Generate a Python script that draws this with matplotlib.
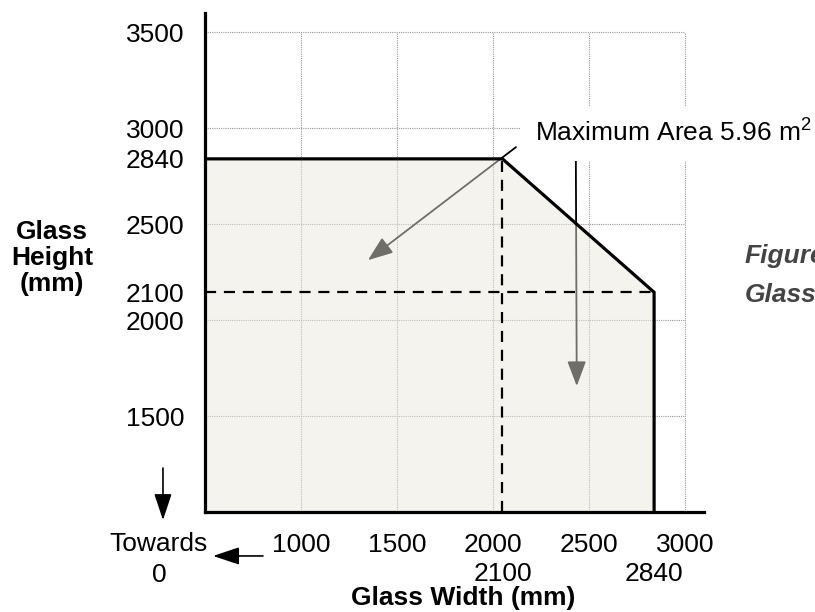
import matplotlib.pyplot as plt

plt.rcParams["font.family"] = ["Liberation Sans", "DejaVu Sans"]
plt.rcParams["mathtext.default"] = "regular"

# outline of the allowed glass size (drawn corner sits a little left/up of 2100)
outline_w = [500, 500, 2050, 2840, 2840]
outline_h = [1000, 2840, 2840, 2145, 1000]

x_ticks = [1000, 1500, 2000, 2500, 3000]
y_ticks = [1500, 2000, 2145, 2500, 2840, 3000, 3500]
y_labels = ["1500", "2000", "2100", "2500", "2840", "3000", "3500"]
x_extra = [2050, 2840]
x_extra_labels = ["2100", "2840"]

grid_x = [1000, 1500, 2000, 2500, 3000]
grid_y = [1500, 2000, 2500, 3000, 3500]

FILL = (233 / 255, 231 / 255, 221 / 255)
FS = 19

fig = plt.figure(figsize=(8.15, 6.12), dpi=100)
ax = fig.add_axes([205 / 815, 1 - 512 / 612, 499 / 815, 499 / 612])
ax.set_xlim(500, 3100)
ax.set_ylim(1000, 3600)

# grid
ax.hlines(grid_y, 500, 3000, colors="#999999", linewidth=0.8,
          linestyle=(0, (1, 1)), zorder=1)
ax.vlines(grid_x, 1000, 3500, colors="#999999", linewidth=0.8,
          linestyle=(0, (1, 1)), zorder=1)

# pointer arrows (drawn under the translucent fill)
arrow = dict(arrowstyle="-|>,head_length=0.85,head_width=0.32", color="black",
             lw=1.3, shrinkA=0, shrinkB=0, mutation_scale=18)
ax.annotate("", xy=(1349, 2312), xytext=(2120, 2901), arrowprops=arrow, zorder=2)
ax.annotate("", xy=(2437, 1656), xytext=(2432, 2901), arrowprops=arrow, zorder=2)

ax.fill(outline_w, outline_h, color=FILL, alpha=0.48, lw=0, zorder=3)

# dashed reference lines
ax.plot([500, outline_w[3]], [outline_h[3]] * 2, color="black", lw=1.6,
        linestyle=(0, (5, 3.5)), zorder=4)
ax.plot([outline_w[2]] * 2, [1000, outline_h[2]], color="black", lw=1.6,
        linestyle=(0, (5, 3.5)), zorder=4)

ax.plot(outline_w, outline_h, color="black", lw=2.3, zorder=5,
        solid_joinstyle="miter")

ax.text(2219, 2974, "Maximum Area 5.96 m$^2$", fontsize=FS, va="center",
        ha="left", zorder=6,
        bbox=dict(facecolor="white", edgecolor="none", pad=10))

for s in ["top", "right"]:
    ax.spines[s].set_visible(False)
for s in ["left", "bottom"]:
    ax.spines[s].set_linewidth(2.3)
    ax.spines[s].set_zorder(6)

ax.set_xticks(x_ticks)
ax.set_xticklabels([str(v) for v in x_ticks], fontsize=FS)
ax.set_yticks(y_ticks)
ax.set_yticklabels(y_labels, fontsize=FS)
ax.tick_params(axis="x", length=0, pad=15)
ax.tick_params(axis="y", length=0, pad=15)

for xv, lab in zip(x_extra, x_extra_labels):
    ax.text(xv, 677, lab, fontsize=FS, ha="center", va="center", clip_on=False)

ax.text(260, 833, "Towards", fontsize=FS, ha="center", va="center", clip_on=False)
ax.text(260, 672, "0", fontsize=FS, ha="center", va="center", clip_on=False)

small = dict(arrowstyle="-|>,head_length=0.9,head_width=0.3", color="black",
             lw=1.2, shrinkA=0, shrinkB=0, mutation_scale=18)
ax.annotate("", xy=(281, 958), xytext=(281, 1229), arrowprops=small,
            annotation_clip=False)
ax.annotate("", xy=(542, 771), xytext=(802, 771), arrowprops=small,
            annotation_clip=False)

fig.text(463 / 815, 1 - 598 / 612, "Glass Width (mm)", fontsize=FS,
         fontweight="bold", ha="center", va="center")
fig.text(52 / 815, 1 - 258 / 612, "Glass\nHeight\n(mm)", fontsize=FS,
         fontweight="bold", ha="center", va="center", multialignment="center",
         linespacing=1.12)

# caption runs off the right edge, as in the source image
fig.text(745 / 815, 1 - 263 / 612, "Figure", fontsize=FS, fontweight="bold",
         fontstyle="italic", color="#444444", ha="left", va="baseline")
fig.text(745 / 815, 1 - 302 / 612, "Glass", fontsize=FS, fontweight="bold",
         fontstyle="italic", color="#444444", ha="left", va="baseline")

fig.savefig("out.png", dpi=100)
plt.close(fig)
